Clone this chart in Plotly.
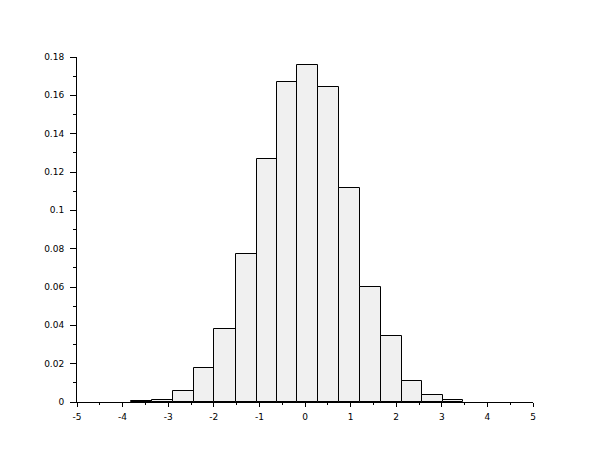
import plotly.graph_objects as go

bin_edges = [-3.82, -3.36, -2.89, -2.44, -1.99, -1.52, -1.06, -0.62, -0.17,
             0.29, 0.75, 1.20, 1.66, 2.12, 2.57, 3.02, 3.47]
densities = [0.0005, 0.0013, 0.0060, 0.0180, 0.0380, 0.0770, 0.1270, 0.1672,
             0.1756, 0.1646, 0.1114, 0.0602, 0.0343, 0.0108, 0.0039, 0.0009]
x_ticks = [-5, -4, -3, -2, -1, 0, 1, 2, 3, 4, 5]
x_tick_labels = ["-5", "-4", "-3", "-2", "-1", "0", "1", "2", "3", "4", "5"]
y_ticks = [0, 0.02, 0.04, 0.06, 0.08, 0.1, 0.12, 0.14, 0.16, 0.18]
y_tick_labels = ["0", "0.02", "0.04", "0.06", "0.08", "0.1", "0.12", "0.14", "0.16", "0.18"]

centers = [(a + b) / 2 for a, b in zip(bin_edges[:-1], bin_edges[1:])]
widths = [b - a for a, b in zip(bin_edges[:-1], bin_edges[1:])]

fig = go.Figure(go.Bar(
    x=centers, y=densities, width=widths,
    marker=dict(color="#f0f0f0", line=dict(color="black", width=1)),
))

font = dict(family="DejaVu Sans", size=9, color="black")
fig.update_layout(
    width=602, height=452,
    margin=dict(l=69, r=77, t=49, b=58),
    paper_bgcolor="white", plot_bgcolor="white",
    showlegend=False, bargap=0,
    font=font,
)
fig.update_xaxes(
    range=[-5, 5], tickvals=x_ticks, ticktext=x_tick_labels,
    showline=True, linecolor="black", linewidth=1, showgrid=False, zeroline=False,
    ticks="outside", ticklen=4, tickcolor="black", tickfont=font,
    ticklabelstandoff=2,
    minor=dict(dtick=0.5, tick0=0, ticks="outside", ticklen=2, tickcolor="black", showgrid=False),
)
fig.update_yaxes(
    range=[0, 0.18], tickvals=y_ticks, ticktext=y_tick_labels,
    showline=True, linecolor="black", linewidth=1, showgrid=False, zeroline=False,
    ticks="outside", ticklen=6, tickcolor="black", tickfont=font,
    ticklabelstandoff=4,
    minor=dict(dtick=0.01, tick0=0, ticks="outside", ticklen=3, tickcolor="black", showgrid=False),
)

fig.write_html("out.html")
